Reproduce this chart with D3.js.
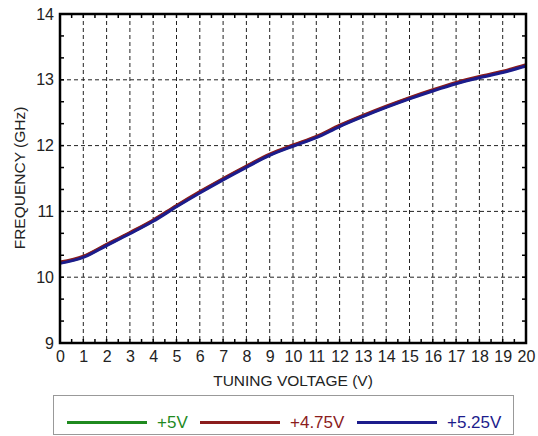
<!DOCTYPE html>
<html><head><meta charset="utf-8">
<script src="https://cdn.jsdelivr.net/npm/d3@7"></script>
<style>body{margin:0;background:#fff;}svg{display:block;font-family:Arial,"Liberation Sans",sans-serif;}</style>
</head><body><svg id="c" width="538" height="436"></svg>
<script>
const voltage = [0,1,2,3,4,5,6,7,8,9,10,11,12,13,14,15,16,17,18,19,20];
const freq5V   = [10.22,10.31,10.49,10.67,10.86,11.08,11.29,11.49,11.68,11.86,12.00,12.13,12.30,12.45,12.59,12.72,12.84,12.95,13.04,13.12,13.22];
const freq475V = [10.23,10.32,10.50,10.68,10.87,11.09,11.30,11.50,11.69,11.87,12.01,12.14,12.31,12.46,12.60,12.73,12.85,12.96,13.05,13.13,13.23];
const freq525V = [10.21,10.30,10.48,10.66,10.85,11.07,11.28,11.48,11.67,11.85,11.99,12.12,12.29,12.44,12.58,12.71,12.83,12.94,13.03,13.11,13.21];
const xTicks = d3.range(0,21);
const yTicks = [9,10,11,12,13,14];
const seriesNames = ["+5V","+4.75V","+5.25V"];
const seriesColors = ["#1f8a1f","#8b1c1c","#1c1c8c"];

const svg = d3.select("#c");
const L=60,R=526,T=14,B=343;
const x = d3.scaleLinear().domain([0,20]).range([L,R]);
const y = d3.scaleLinear().domain([9,14]).range([B,T]);

// grid
const g = svg.append("g");
g.selectAll(".vg").data(xTicks.slice(1,-1)).join("line")
 .attr("x1",d=>x(d)).attr("x2",d=>x(d)).attr("y1",T).attr("y2",B)
 .attr("stroke","#222").attr("stroke-width",1).attr("stroke-dasharray","4,3");
g.selectAll(".hg").data(yTicks.slice(1,-1)).join("line")
 .attr("y1",d=>y(d)).attr("y2",d=>y(d)).attr("x1",L).attr("x2",R)
 .attr("stroke","#222").attr("stroke-width",1).attr("stroke-dasharray","4,3");

// minor ticks inward
const minorY = d3.range(9,14.001,1/3);
const minorX = d3.range(0,20.001,0.5);
svg.append("g").selectAll("line").data(minorY).join("line")
 .attr("x1",L).attr("x2",L+4).attr("y1",d=>y(d)).attr("y2",d=>y(d)).attr("stroke","#000").attr("stroke-width",1.5);
svg.append("g").selectAll("line").data(minorY).join("line")
 .attr("x1",R-4).attr("x2",R).attr("y1",d=>y(d)).attr("y2",d=>y(d)).attr("stroke","#000").attr("stroke-width",1.5);
svg.append("g").selectAll("line").data(minorX).join("line")
 .attr("x1",d=>x(d)).attr("x2",d=>x(d)).attr("y1",B-4).attr("y2",B).attr("stroke","#000").attr("stroke-width",1.5);
svg.append("g").selectAll("line").data(minorX).join("line")
 .attr("x1",d=>x(d)).attr("x2",d=>x(d)).attr("y1",T).attr("y2",T+4).attr("stroke","#000").attr("stroke-width",1.5);

// axes labels via d3 axes
const xAxis = svg.append("g").attr("transform",`translate(0,${B})`)
 .call(d3.axisBottom(x).tickValues(xTicks).tickSize(0).tickPadding(8).tickFormat(d3.format("d")));
xAxis.select(".domain").remove();
xAxis.selectAll("text").attr("font-size",16).attr("fill","#222").attr("font-family","Arial, 'Liberation Sans', sans-serif");
const yAxis = svg.append("g").attr("transform",`translate(${L},0)`)
 .call(d3.axisLeft(y).tickValues(yTicks).tickSize(0).tickPadding(6).tickFormat(d3.format("d")));
yAxis.select(".domain").remove();
yAxis.selectAll("text").attr("font-size",16).attr("fill","#222").attr("font-family","Arial, 'Liberation Sans', sans-serif");

// series
const line = d3.line().x((d,i)=>x(voltage[i])).y(d=>y(d)).curve(d3.curveMonotoneX);
[freq5V,freq475V,freq525V].forEach((s,i)=>{
  svg.append("path").datum(s).attr("d",line).attr("fill","none")
   .attr("stroke",seriesColors[i]).attr("stroke-width",3);
});

// frame
svg.append("rect").attr("x",L).attr("y",T).attr("width",R-L).attr("height",B-T)
 .attr("fill","none").attr("stroke","#000").attr("stroke-width",2.5);

// titles
svg.append("text").attr("x",293).attr("y",386).attr("text-anchor","middle")
 .attr("font-size",15.5).attr("fill","#222").text("TUNING VOLTAGE (V)");
svg.append("text").attr("transform","translate(25,178) rotate(-90)").attr("text-anchor","middle")
 .attr("font-size",15.5).attr("fill","#222").text("FREQUENCY (GHz)");

// legend
svg.append("rect").attr("x",53.5).attr("y",395.5).attr("width",460).attr("height",39)
 .attr("fill","#fff").attr("stroke","#999").attr("stroke-width",1);
const legX = [67,200,357];
const lg = svg.append("g").selectAll("g").data(seriesNames).join("g");
lg.append("line").attr("x1",(d,i)=>legX[i]).attr("x2",(d,i)=>legX[i]+80)
 .attr("y1",422.5).attr("y2",422.5).attr("stroke",(d,i)=>seriesColors[i]).attr("stroke-width",3);
lg.append("text").attr("x",(d,i)=>legX[i]+90).attr("y",428)
 .attr("font-size",17).attr("fill",(d,i)=>seriesColors[i]).text(d=>d);
</script></body></html>
